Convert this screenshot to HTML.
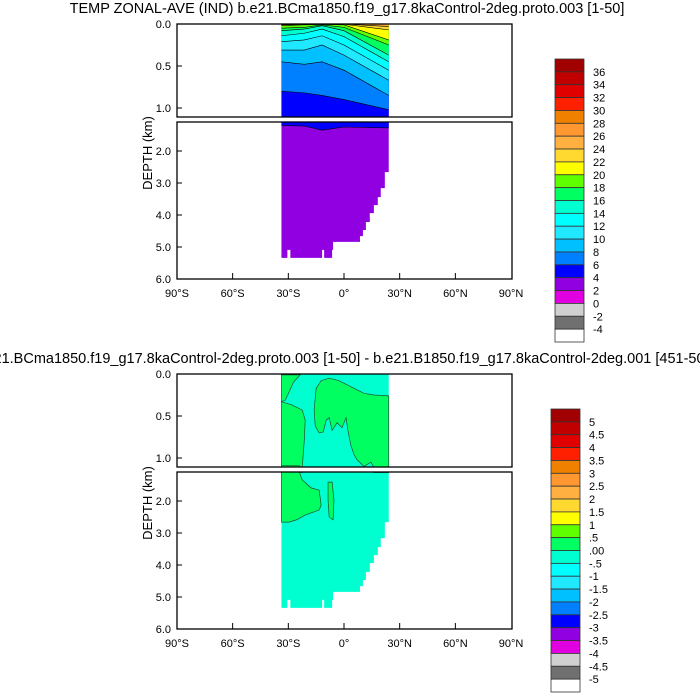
<!DOCTYPE html>
<html><head><meta charset="utf-8"><style>
html,body{margin:0;padding:0;background:#fff;overflow:hidden;width:700px;height:700px}
svg{display:block;font-family:"Liberation Sans",Arial,sans-serif}
</style></head><body>
<svg id="chart" width="700" height="700" viewBox="0 0 700 700" xmlns="http://www.w3.org/2000/svg">
<defs>
<clipPath id="cU0"><rect x="177" y="24" width="335" height="93"/></clipPath>
<clipPath id="cL0"><rect x="177" y="122" width="335" height="157"/></clipPath>
<clipPath id="cU1"><rect x="177" y="374" width="335" height="93"/></clipPath>
<clipPath id="cL1"><rect x="177" y="472" width="335" height="157"/></clipPath>
</defs>
<text x="347" y="13" font-size="14.5" text-anchor="middle">TEMP ZONAL-AVE (IND) b.e21.BCma1850.f19_g17.8kaControl-2deg.proto.003 [1-50]</text>
<text x="345" y="363" font-size="14.5" text-anchor="middle">b.e21.BCma1850.f19_g17.8kaControl-2deg.proto.003 [1-50] - b.e21.B1850.f19_g17.8kaControl-2deg.001 [451-500]</text>
<g id="g0"></g>
<g id="g1"></g>
</svg>
<script>
const lonTicks = [-90,-60,-30,0,30,60,90];
const lonTickLabels = ["90°S","60°S","30°S","0°","30°N","60°N","90°N"];
const depthTicksUpper = [0,0.5,1.0];
const depthTicksLower = [2,3,4,5,6];
const colors = ["#a00000","#c00000","#e00000","#ff2000","#f08000","#ff9830","#ffb040","#ffd830","#ffff00","#60ff00","#00ff60","#00ffd0","#00ffff","#20e8ff","#00c0ff","#0080ff","#0000ff","#9000e0","#e000e0","#d0d0d0","#707070","#ffffff"];
const tempLabels = ["36","34","32","30","28","26","24","22","20","18","16","14","12","10","8","6","4","2","0","-2","-4"];
const diffLabels = ["5","4.5","4","3.5","3","2.5","2","1.5","1",".5",".00","-.5","-1","-1.5","-2","-2.5","-3","-3.5","-4","-4.5","-5"];
// ocean bottom steps [lonStart, lonEnd, depthKm]
const bottomSteps = [[-33.7,-30.5,5.34],[-30.5,-28.9,5.09],[-28.9,-11.8,5.34],[-11.8,-10.7,5.09],[-10.7,-6.4,5.34],[-6.4,-5.9,5.09],[-5.9,8.6,4.84],[8.6,10.2,4.66],[10.2,11.8,4.47],[11.8,13.9,4.22],[13.9,16.1,3.94],[16.1,18.2,3.69],[18.2,19.8,3.44],[19.8,22,3.16],[22,24.1,2.66]];
// isotherm depths (km) at these longitudes
const isoLons = [-33.7,-21.4,-11.8,0,24.1];
const isoLevels = [4,6,8,10,12,14,16,18,20,22,24];
const isoDepths = [
 [1.20,1.22,1.35,1.25,1.28],
 [0.80,0.82,0.85,0.90,1.02],
 [0.45,0.48,0.45,0.55,0.85],
 [0.31,0.31,0.25,0.37,0.67],
 [0.21,0.19,0.14,0.25,0.55],
 [0.14,0.11,0.06,0.15,0.45],
 [0.08,0.06,0.02,0.08,0.37],
 [0.05,0.04,0.01,0.04,0.25],
 [0.02,0.01,0.005,0.01,0.19],
 [0.01,0.005,0.0,0.003,0.07],
 [0.0,0.0,0.0,0.0,0.03]];
// anomaly patches (> 0 degC) as [lon, depth] outlines
const greenPatches = [
 [[-33.7,.01],[-23.6,.01],[-27.3,.1],[-29.5,.21],[-31.6,.31],[-33.7,.33]],
 [[-33.7,.33],[-27.9,.37],[-22.5,.43],[-20.9,.55],[-21.4,.79],[-22.5,1.11],[-33.7,1.11]],
 [[-15,.17],[-12.3,.08],[-8,.05],[-2.7,.08],[5.4,.17],[10.7,.23],[16.1,.25],[24.1,.26],[24.1,1.11],[16.1,1.11],[14.5,1.05],[10.7,1.1],[7,1.02],[5.4,.96],[3.7,.85],[2.1,.67],[1.1,.52],[-1.1,.64],[-3.7,.58],[-6.4,.67],[-8,.52],[-9.6,.55],[-11.2,.69],[-13.4,.70],[-15.5,.62],[-16.1,.43]],
 [[-33.7,1.09],[-24.1,1.09],[-22.5,1.34],[-17.7,1.59],[-13.4,1.66],[-12.3,2.13],[-13.4,2.28],[-20.9,2.44],[-25.7,2.59],[-29.5,2.66],[-33.7,2.66]],
 [[-8.6,1.41],[-6.4,1.41],[-5.4,1.97],[-5.9,2.59],[-8,2.5],[-8.6,1.97]]
];
const NS="http://www.w3.org/2000/svg";
function el(t,a,p){const e=document.createElementNS(NS,t);for(const k in a)e.setAttribute(k,a[k]);p.appendChild(e);return e;}
const xS = lon => 344 + lon*1.856;
function yU(d,off){return off+24+84*d;}
function yL(d,off){return off+151+32*(d-2);}
function oceanPath(yf){
  let p=`M${xS(bottomSteps[0][0])},${yf(-0.5)}`;
  for(const s of bottomSteps){p+=` L${xS(s[0])},${yf(s[2])} L${xS(s[1])},${yf(s[2])}`;}
  p+=` L${xS(bottomSteps[bottomSteps.length-1][1])},${yf(-0.5)} Z`;return p;
}
function isoLine(i,yf){return isoLons.map((l,j)=>`${xS(l)},${yf(isoDepths[i][j])}`).join(" L");}
function drawPanel(g,idx,panel,yf){
  const clip = el("g",{"clip-path":`url(#c${panel}${idx})`},g);
  
  
  const oc = el("path",{d:oceanPath(yf),fill:idx===0?"#9000e0":"#00ffd0"},clip);
  
  
  if(idx===0){
    for(let i=0;i<isoLevels.length;i++){
      const ci = (36-isoLevels[i])/2;
      const d=`M${xS(isoLons[0])},${yf(-0.5)} L${isoLine(i,yf)} L${xS(isoLons[isoLons.length-1])},${yf(-0.5)} Z`;
      const band = el("path",{d:d,fill:colors[ci]},clip);
      
      
      const ln = el("path",{d:"M"+isoLine(i,yf),fill:"none",stroke:"#000","stroke-width":"0.6"},clip);
      
      
    }
  } else {
    for(const poly of greenPatches){
      const pp = el("polygon",{points:poly.map(p=>`${xS(p[0])},${yf(p[1])}`).join(" "),fill:"#00ff60",stroke:"#205030","stroke-width":"0.7"},clip);
      
      
    }
  }
}
function drawChart(idx){
  const off = idx*350;
  const g = document.getElementById("g"+idx);
  drawPanel(g,idx,"U",d=>yU(d,off));
  drawPanel(g,idx,"L",d=>yL(d,off));
  const f1=el("rect",{x:177,y:off+24,width:335,height:93,fill:"none",stroke:"#000","stroke-width":"1.3"},g);
  
  
  const f2=el("rect",{x:177,y:off+122,width:335,height:157,fill:"none",stroke:"#000","stroke-width":"1.3"},g);
  
  
  const yt=[...depthTicksUpper.map(d=>[d,yU(d,off)]),...depthTicksLower.map(d=>[d,yL(d,off)])];
  for(const [d,y] of yt){
    if(y>off+24.5 && y<off+278.5){el("line",{x1:177,y1:y,x2:182,y2:y,stroke:"#000"},g);}
    const t=el("text",{x:171,y:y+4,"font-size":"11","text-anchor":"end"},g);
    
    
    t.textContent=d.toFixed(1);
  }
  lonTicks.forEach((lon,i)=>{
    const x=xS(lon);
    if(i>0&&i<lonTicks.length-1) el("line",{x1:x,y1:off+279,x2:x,y2:off+273,stroke:"#000"},g);
    const t=el("text",{x:x,y:off+297,"font-size":"11","text-anchor":"middle"},g);
    
    
    t.textContent=lonTickLabels[i];
  });
  const yl=el("text",{x:0,y:0,"font-size":"13","text-anchor":"middle",transform:`translate(152,${off+153}) rotate(-90)`},g);
  
  
  yl.textContent="DEPTH (km)";
  const cbx = idx===0?555:551, cby = off+59, bh=(342-59)/22;
  const cb = el("g",{},g);
  
  
  colors.forEach((c,i)=>{
    const r=el("rect",{x:cbx,y:cby+i*bh,width:29,height:bh,fill:c,stroke:"#333","stroke-width":"0.8"},cb);
    
    
  });
  const labs = idx===0?tempLabels:diffLabels;
  labs.forEach((s,i)=>{
    const t=el("text",{x:cbx+38,y:cby+(i+1)*bh+4,"font-size":"11"},cb);
    
    
    t.textContent=s;
  });
}
drawChart(0);drawChart(1);
</script>
</body></html>
